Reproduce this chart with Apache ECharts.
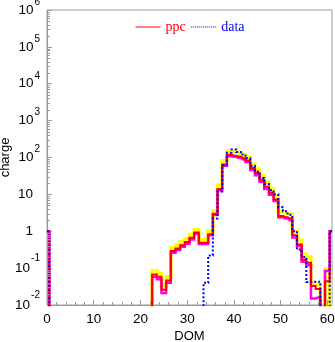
<!DOCTYPE html>
<html>
<head>
<meta charset="utf-8">
<script src="https://cdn.jsdelivr.net/npm/echarts@6/dist/echarts.min.js"></script>
<style>
  html, body { margin: 0; padding: 0; background: #fff; }
  #chart { width: 335px; height: 342px; }
</style>
</head>
<body>
<div id="chart"></div>
<script>
// Charge per DOM, one bin per DOM number (0..61); 0 means an empty bin.
const doms = Array.from({ length: 62 }, (_, i) => i);

const ppc = [
  1, 0, 0, 0, 0, 0, 0, 0, 0, 0,
  0, 0, 0, 0, 0, 0, 0, 0, 0, 0,
  0, 0, 0, 0.067, 0.058, 0.026, 0.046, 0.29, 0.34, 0.42,
  0.51, 0.67, 0.92, 0.49, 0.49, 0.83, 3.0, 14, 65, 118,
  112, 106, 95, 82, 52, 38, 25, 16, 11, 7.3,
  2.6, 2.4, 2.2, 0.78, 0.44, 0.17, 0.14, 0.033, 0.027, 0,
  0.044, 1
];

const ppcHigh = [
  0, 0, 0, 0, 0, 0, 0, 0, 0, 0,
  0, 0, 0, 0, 0, 0, 0, 0, 0, 0,
  0, 0, 0, 0.085, 0.072, 0.034, 0.058, 0.36, 0.42, 0.52,
  0.63, 0.82, 1.1, 0.6, 0.62, 1.0, 3.6, 18, 82, 150,
  140, 132, 118, 100, 66, 48, 32, 21, 14, 9.5,
  3.4, 3.1, 2.9, 1.0, 0.58, 0.24, 0.2, 0.04, 0.036, 0,
  0.092, 0
];

const ppcLow = [
  1, 0, 0, 0, 0, 0, 0, 0, 0, 0,
  0, 0, 0, 0, 0, 0, 0, 0, 0, 0,
  0, 0, 0, 0.058, 0.05, 0.021, 0.04, 0.26, 0.31, 0.38,
  0.46, 0.6, 0.85, 0.45, 0.45, 0.78, 2.8, 13, 60, 108,
  104, 98, 88, 75, 46, 33, 22, 14, 9.8, 6.6,
  2.4, 2.2, 2.0, 0.68, 0.4, 0.15, 0.12, 0.015, 0.016, 0,
  0.083, 1
];

const data = [
  1, 0, 0, 0, 0, 0, 0, 0, 0, 0,
  0, 0, 0, 0, 0, 0, 0, 0, 0, 0,
  0, 0, 0, 0, 0, 0, 0, 0, 0, 0,
  0, 0, 0, 0, 0.04, 0.22, 2.2, 12, 62, 135,
  165, 140, 120, 95, 60, 42, 28, 19, 13, 10,
  4.5, 3.5, 2.8, 1.0, 0.32, 0.2, 0.042, 0.043, 0.043, 0,
  0, 1
];

// Axis extents and tick positions
const xMin = 0, xMax = 61;
const xMajorStep = 10;
const xMinorTicks = [2, 4, 6, 8, 12, 14, 16, 18, 22, 24, 26, 28, 32, 34, 36, 38,
                     42, 44, 46, 48, 52, 54, 56, 58];
const yMin = 1e-2, yMax = 1e6;
const yMinorTicks = [];
for (let e = -2; e < 6; e++) {
  for (let k = 2; k <= 9; k++) yMinorTicks.push(k * Math.pow(10, e));
}

const FLOOR = 1e-6; // empty bins sit far below the axis and are clipped away
const toPoints = arr => doms.map((d, i) => [d, arr[i] > 0 ? arr[i] : FLOOR]);

const AXIS_GREY = '#9a9a9a';
const SANS = 'Liberation Sans';

function stepSeries(name, values, color, width, type) {
  return {
    name: name,
    type: 'line',
    step: 'middle',
    symbol: 'none',
    showSymbol: false,
    clip: true,
    silent: true,
    data: toPoints(values),
    lineStyle: { color: color, width: width, type: type || 'solid', join: 'miter', cap: 'butt' },
    itemStyle: { color: color }
  };
}

function tickSeries(points, dx, dy, len) {
  return {
    type: 'custom',
    silent: true,
    clip: false,
    z: 5,
    data: points,
    renderItem: function (params, api) {
      const p = api.coord([api.value(0), api.value(1)]);
      const x = Math.round(p[0]) + 0.5 * (dy !== 0 ? 1 : 0);
      const y = Math.round(p[1]) + 0.5 * (dx !== 0 ? 1 : 0);
      return {
        type: 'line',
        shape: { x1: x, y1: y, x2: x + dx * len, y2: y + dy * len },
        style: { stroke: AXIS_GREY, lineWidth: 1 }
      };
    }
  };
}

const chart = echarts.init(document.getElementById('chart'), null, { renderer: 'canvas' });

chart.setOption({
  animation: false,
  backgroundColor: '#fff',
  grid: {
    left: 47, right: 3, top: 10, bottom: 37,
    outerBoundsMode: 'none',
    containLabel: false,
    show: true, borderColor: AXIS_GREY, borderWidth: 1, backgroundColor: 'transparent'
  },
  legend: {
    left: 130, top: 15,
    itemWidth: 25, itemHeight: 14, itemGap: 5,
    lineStyle: { width: 1 },
    itemStyle: { opacity: 0 },
    textStyle: { fontFamily: 'Liberation Serif', fontSize: 14 },
    data: [
      { name: 'ppc', textStyle: { color: '#ff0000' }, lineStyle: { width: 1 } },
      { name: 'data', textStyle: { color: '#0000ff' }, lineStyle: { width: 1 } }
    ]
  },
  xAxis: {
    type: 'value',
    min: xMin, max: xMax, interval: xMajorStep,
    name: 'DOM', nameLocation: 'middle', nameGap: 25,
    nameMoveOverlap: false,
    nameTextStyle: { fontFamily: SANS, fontSize: 13, color: '#000' },
    axisLine: { lineStyle: { color: AXIS_GREY } },
    axisTick: { inside: true, length: 5, lineStyle: { color: AXIS_GREY } },
    splitLine: { show: false },
    axisLabel: {
      margin: 7, fontFamily: SANS, fontSize: 13.5, color: '#000',
      showMaxLabel: false,
      formatter: v => (v % xMajorStep === 0 ? String(v) : '')
    }
  },
  yAxis: {
    type: 'log', logBase: 10,
    min: yMin, max: yMax, interval: 1, splitNumber: 8,
    name: 'charge', nameLocation: 'middle', nameGap: 35,
    nameMoveOverlap: false,
    nameTextStyle: { fontFamily: SANS, fontSize: 13, color: '#000' },
    axisLine: { lineStyle: { color: AXIS_GREY } },
    axisTick: { inside: true, length: 5, lineStyle: { color: AXIS_GREY } },
    splitLine: { show: false },
    axisLabel: {
      margin: 7,
      formatter: function (v) {
        const n = Math.round(Math.log10(v));
        if (n === 0) return '{p|1}';
        if (n === 1) return '{p|10}';
        return '{b|10}{' + (n < 0 ? 'n' : 'e') + '|' + n + '}';
      },
      rich: {
        p: { fontFamily: SANS, fontSize: 13.5, color: '#000', padding: [0, 7, 0, 0] },
        b: { fontFamily: SANS, fontSize: 13.5, color: '#000' },
        e: { fontFamily: SANS, fontSize: 10, color: '#000', padding: [0, 0, 16, 1] },
        n: { fontFamily: SANS, fontSize: 10, color: '#000', padding: [0, 0, 20, 1] }
      }
    }
  },
  series: [
    stepSeries('ppc-high', ppcHigh, '#ffff00', 3.5),
    stepSeries('ppc-low', ppcLow, '#ff00ff', 2.5),
    stepSeries('ppc', ppc, '#ff0000', 2),
    stepSeries('data', data, '#0000ff', 2, 'dotted'),
    tickSeries(yMinorTicks.map(v => [xMin, v]), 1, 0, 3),
    tickSeries(xMinorTicks.map(v => [v, yMin]), 0, -1, 3)
  ]
});
</script>
</body>
</html>
